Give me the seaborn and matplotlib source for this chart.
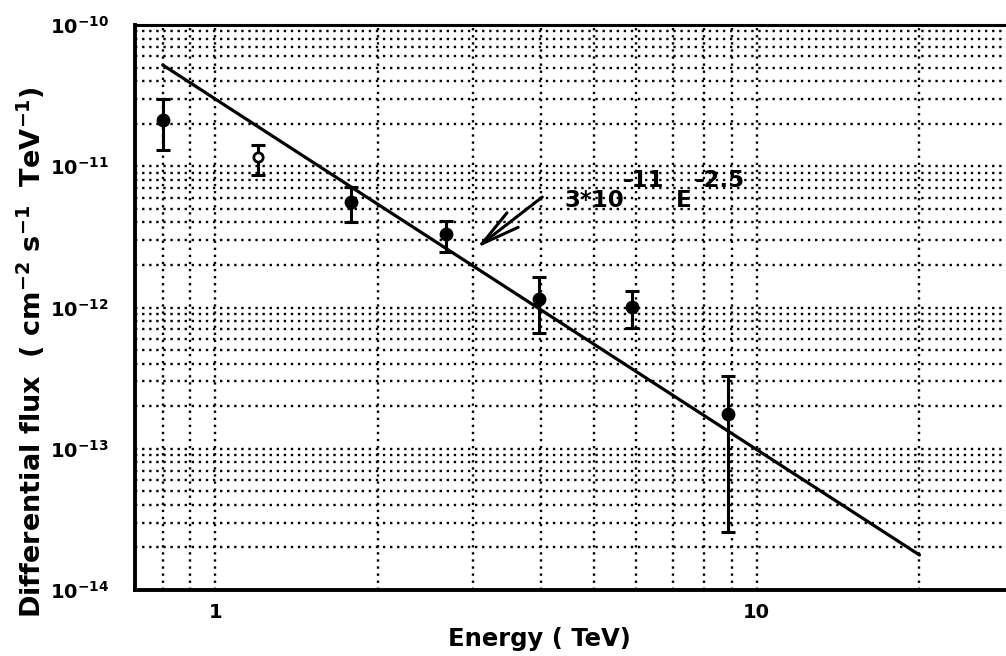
import numpy as np
import pandas as pd
import matplotlib
matplotlib.use("Agg")
import matplotlib.pyplot as plt
import seaborn as sns
from matplotlib.ticker import LogLocator, NullFormatter

# measured points (TeV, cm^-2 s^-1 TeV^-1)
energy = [0.80, 1.20, 1.78, 2.67, 3.97, 5.90, 8.84]
flux = [2.12e-11, 1.16e-11, 5.58e-12, 3.31e-12, 1.15e-12, 1.01e-12, 1.76e-13]
flux_hi = [2.99e-11, 1.41e-11, 7.13e-12, 4.10e-12, 1.64e-12, 1.31e-12, 3.27e-13]
flux_lo = [1.30e-11, 8.67e-12, 4.03e-12, 2.47e-12, 6.60e-13, 7.16e-13, 2.58e-14]
hollow = [False, True, False, False, False, False, False]

# fitted power law 3*10^-11 E^-2.5, end points as drawn
fit_energy = [0.8, 20.0]
fit_flux = [5.21e-11, 1.77e-14]

x_ticks = [1, 10]
x_ticklabels = ["1", "10"]
y_ticks = [1e-14, 1e-13, 1e-12, 1e-11, 1e-10]
y_ticklabels = [r"$10^{-14}$", r"$10^{-13}$", r"$10^{-12}$", r"$10^{-11}$", r"$10^{-10}$"]

sns.set_style("white")
plt.rcParams["font.family"] = ["DejaVu Sans"]
plt.rcParams["font.weight"] = "bold"
plt.rcParams["mathtext.default"] = "bf"
plt.rcParams["text.color"] = "black"
plt.rcParams["axes.labelcolor"] = "black"
plt.rcParams["xtick.color"] = "black"
plt.rcParams["ytick.color"] = "black"

df = pd.DataFrame({"E": energy, "F": flux, "hi": flux_hi, "lo": flux_lo, "hollow": hollow})
fit = pd.DataFrame({"E": fit_energy, "F": fit_flux})

fig = plt.figure(figsize=(10.06, 6.56), dpi=100)
ax = fig.add_axes([0.1342, 0.1006, 0.8658, 0.8613])
ax.set_xscale("log")
ax.set_yscale("log")

# the fit line
sns.lineplot(data=fit, x="E", y="F", ax=ax, color="black", linewidth=2.3)

# error bars then markers
yerr = np.array([df["F"] - df["lo"], df["hi"] - df["F"]])
ax.errorbar(df["E"], df["F"], yerr=yerr, fmt="none", ecolor="black",
            elinewidth=2.2, capsize=4.8, capthick=2.2, zorder=3)
sns.scatterplot(data=df[~df["hollow"]], x="E", y="F", ax=ax, color="black",
                s=80, edgecolor="black", linewidth=1, zorder=4)
sns.scatterplot(data=df[df["hollow"]], x="E", y="F", ax=ax, color="white",
                s=45, edgecolor="black", linewidth=2, zorder=4)

ax.set_xlim(0.711, 28.9)
ax.set_ylim(1e-14, 1e-10)

ax.set_xticks(x_ticks, x_ticklabels)
ax.xaxis.set_minor_locator(LogLocator(base=10, subs=np.arange(2, 10)))
ax.xaxis.set_minor_formatter(NullFormatter())
ax.set_yticks(y_ticks, y_ticklabels)
ax.yaxis.set_minor_locator(LogLocator(base=10, subs=np.arange(2, 10), numticks=20))
ax.yaxis.set_minor_formatter(NullFormatter())
ax.tick_params(axis="x", which="major", direction="in", length=5, width=1.5,
               pad=9, labelsize=14)
ax.tick_params(axis="y", which="major", direction="in", length=0, pad=19,
               labelsize=14)
ax.tick_params(which="minor", direction="in", length=3, width=1.2)
ax.tick_params(axis="y", which="minor", length=0)

# dotted grid everywhere
ax.grid(True, which="both", color="black", linestyle=(0, (1, 2.0)), linewidth=1.7)

for side, lw in [("left", 2.8), ("bottom", 2.8), ("top", 2.2)]:
    ax.spines[side].set_linewidth(lw)
    ax.spines[side].set_color("black")
ax.spines["right"].set_visible(False)

ax.set_xlabel("Energy ( TeV)", fontsize=17.5, fontweight="bold")
ax.xaxis.set_label_coords(0.464, -0.066)
ax.set_ylabel(r"Differential flux  ( cm$^{-2}$ s$^{-1}$  TeV$^{-1}$)",
              fontsize=19.5, fontweight="bold")
ax.yaxis.set_label_coords(-0.101, 0.421)

# label of the fit with an arrow
ax.annotate("", xy=(3.04, 2.64e-12), xytext=(4.02, 6.05e-12),
            arrowprops=dict(arrowstyle="->,head_length=1.4,head_width=0.33",
                            color="black", linewidth=2.2, mutation_scale=20,
                            shrinkA=0, shrinkB=0))
txt = dict(fontsize=16.5, fontweight="bold", va="baseline", ha="left", color="black")
ax.text(4.42, 5.14e-12, "3*10", **txt)
ax.text(5.65, 7.13e-12, "-11", **txt)
ax.text(7.11, 5.14e-12, "E", **txt)
ax.text(7.68, 7.13e-12, "-2.5", **txt)

fig.savefig("out.png", dpi=100)
